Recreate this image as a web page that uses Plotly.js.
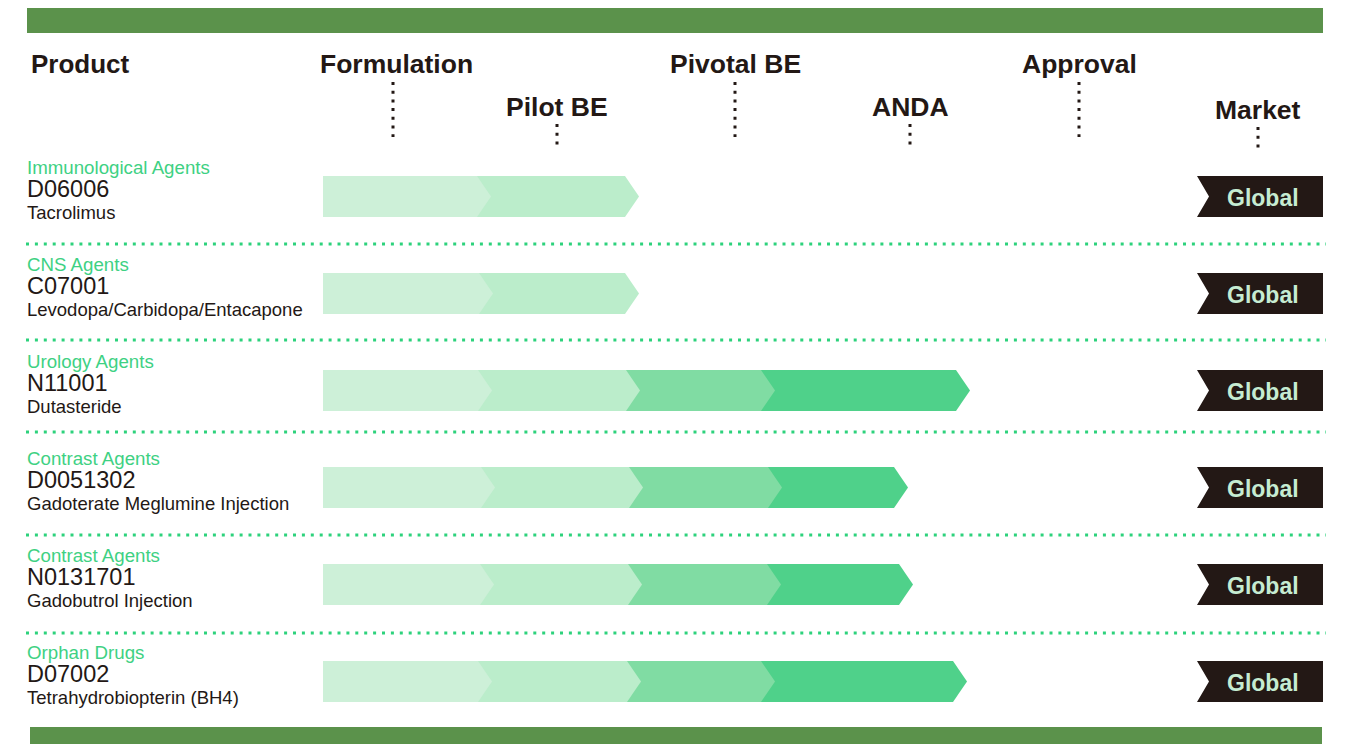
<!DOCTYPE html>
<html>
<head>
<meta charset="utf-8">
<script src="https://cdn.plot.ly/plotly-3.0.1.min.js"></script>
<style>
  html, body { margin: 0; padding: 0; background: #ffffff; }
  #chart { width: 1345px; height: 744px; }
</style>
</head>
<body>
<div id="chart"></div>
<script>
// ---------------- DATA ----------------
const categories = ['Immunological Agents', 'CNS Agents', 'Urology Agents', 'Contrast Agents', 'Contrast Agents', 'Orphan Drugs'];
const codes = ['D06006', 'C07001', 'N11001', 'D0051302', 'N0131701', 'D07002'];
const drugNames = ['Tacrolimus', 'Levodopa/Carbidopa/Entacapone', 'Dutasteride', 'Gadoterate Meglumine Injection', 'Gadobutrol Injection', 'Tetrahydrobiopterin (BH4)'];
const markets = ['Global', 'Global', 'Global', 'Global', 'Global', 'Global'];
const stageNames = ['Formulation', 'Pilot BE', 'Pivotal BE', 'ANDA', 'Approval', 'Market'];
const phaseNames = ['Formulation', 'Pilot BE', 'Pivotal BE', 'ANDA'];
// progress reached in each phase (end of each completed phase, on the pipeline scale)
const progressEnds = [
  [161, 309],
  [163, 309],
  [162, 310, 445, 640],
  [165, 313, 452, 578],
  [164, 312, 451, 583],
  [162, 311, 445, 637]
];

// ---------------- STYLE / LAYOUT CONSTANTS ----------------
const W = 1345, H = 744;
const X0PX = 323;                 // pixel where the pipeline scale starts
const ROW0PX = 196.5, ROWSTEP = 97;
const HALF = 20.5 / ROWSTEP;      // half bar height in row units
const TIP = 7;                    // half arrow depth
const phaseColors = ['#CDF0D8', '#BBEDCB', '#80DCA3', '#4FD18A'];
const dark = '#231815';
const catColor = '#3ED183';
const dotGreen = '#2DD27C';
const band = '#5B924B';
const FONT = 'Liberation Sans, Arial, Helvetica, sans-serif';
const stageXpx = [396, 557, 735, 910, 1079, 1258];
const stageDotXpx = [393, 557, 735, 910, 1079, 1258];
const stageYpx = [64, 107, 64, 107, 64, 110];
const stageDots = [[82, 137], [124, 146], [82, 137], [124, 146], [82, 137], [127, 149]];
const dividerYpx = [244, 340, 432, 535, 633];
const marketBox = [874, 1000];    // on pipeline scale
const marketNotch = 12;
const textLeftPx = 26;

const px2x = p => p - X0PX;
const px2paperX = p => p / W;
const px2paperY = p => 1 - p / H;

const traces = [];
// bars: later phases first so earlier arrow tips overlay the next segment
for (let p = phaseNames.length - 1; p >= 0; p--) {
  progressEnds.forEach((ends, r) => {
    if (ends.length <= p) return;
    const start = p === 0 ? 0 : ends[p - 1] - TIP;
    const end = ends[p];
    traces.push({
      type: 'scatter', mode: 'lines', fill: 'toself',
      x: [start, end - TIP, end + TIP, end - TIP, start, start],
      y: [r - HALF, r - HALF, r, r + HALF, r + HALF, r - HALF],
      fillcolor: phaseColors[p], line: { width: 0, color: phaseColors[p] },
      name: phaseNames[p], hoverinfo: 'skip', showlegend: false
    });
  });
}
// market ribbons
markets.forEach((m, r) => {
  traces.push({
    type: 'scatter', mode: 'lines', fill: 'toself',
    x: [marketBox[0], marketBox[1], marketBox[1], marketBox[0], marketBox[0] + marketNotch, marketBox[0]],
    y: [r - HALF, r - HALF, r + HALF, r + HALF, r, r - HALF],
    fillcolor: dark, line: { width: 0, color: dark },
    hoverinfo: 'skip', showlegend: false
  });
});

const shapes = [];
// top and bottom bands
shapes.push({ type: 'rect', xref: 'paper', yref: 'paper', x0: px2paperX(27), x1: px2paperX(1323), y0: px2paperY(33), y1: px2paperY(8), fillcolor: band, line: { width: 0 } });
shapes.push({ type: 'rect', xref: 'paper', yref: 'paper', x0: px2paperX(30), x1: px2paperX(1322), y0: px2paperY(744), y1: px2paperY(727), fillcolor: band, line: { width: 0 } });
// row dividers
dividerYpx.forEach(y => {
  shapes.push({ type: 'line', xref: 'paper', yref: 'paper', x0: px2paperX(26), x1: px2paperX(1326), y0: px2paperY(y), y1: px2paperY(y), line: { color: dotGreen, width: 3, dash: '3px,5.9px' } });
});
// stage dotted markers
stageDotXpx.forEach((x, i) => {
  shapes.push({ type: 'line', xref: 'paper', yref: 'paper', x0: px2paperX(x), x1: px2paperX(x), y0: px2paperY(stageDots[i][0]), y1: px2paperY(stageDots[i][1]), line: { color: dark, width: 3, dash: '3px,5.7px' } });
});

const annotations = [];
annotations.push({ xref: 'paper', yref: 'paper', x: px2paperX(29), y: px2paperY(64), xanchor: 'left', yanchor: 'middle', showarrow: false, text: 'Product', font: { family: FONT, size: 26, color: dark, weight: 'bold' } });
stageNames.forEach((s, i) => {
  annotations.push({ xref: 'paper', yref: 'paper', x: px2paperX(stageXpx[i]), y: px2paperY(stageYpx[i]), xanchor: 'center', yanchor: 'middle', showarrow: false, text: s, font: { family: FONT, size: 26.5, color: dark, weight: 'bold' } });
});
categories.forEach((c, r) => {
  annotations.push({ xref: 'x', yref: 'y', x: px2x(textLeftPx), y: r, yshift: 29, xanchor: 'left', yanchor: 'middle', showarrow: false, borderpad: 0, text: c, font: { family: FONT, size: 18.7, color: catColor } });
  annotations.push({ xref: 'x', yref: 'y', x: px2x(textLeftPx), y: r, yshift: 7.5, xanchor: 'left', yanchor: 'middle', showarrow: false, borderpad: 0, text: codes[r], font: { family: FONT, size: 23.5, color: dark } });
  annotations.push({ xref: 'x', yref: 'y', x: px2x(textLeftPx), y: r, yshift: -15.5, xanchor: 'left', yanchor: 'middle', showarrow: false, borderpad: 0, text: drugNames[r], font: { family: FONT, size: 18.5, color: dark } });
});
markets.forEach((m, r) => {
  annotations.push({ xref: 'x', yref: 'y', x: (marketBox[0] + marketBox[1]) / 2 + 3, y: r, yshift: -1.5, xanchor: 'center', yanchor: 'middle', showarrow: false, text: m, font: { family: FONT, size: 23, color: '#C6ECD2', weight: 'bold' } });
});

const layout = {
  width: W, height: H,
  margin: { l: 0, r: 0, t: 0, b: 0, pad: 0 },
  paper_bgcolor: '#ffffff', plot_bgcolor: '#ffffff',
  xaxis: { range: [-X0PX, W - X0PX], visible: false, fixedrange: true },
  yaxis: { range: [(H - ROW0PX) / ROWSTEP, (0 - ROW0PX) / ROWSTEP], visible: false, fixedrange: true },
  showlegend: false, hovermode: false,
  shapes: shapes, annotations: annotations
};

Plotly.newPlot('chart', traces, layout, { displayModeBar: false, staticPlot: true });
</script>
</body>
</html>
